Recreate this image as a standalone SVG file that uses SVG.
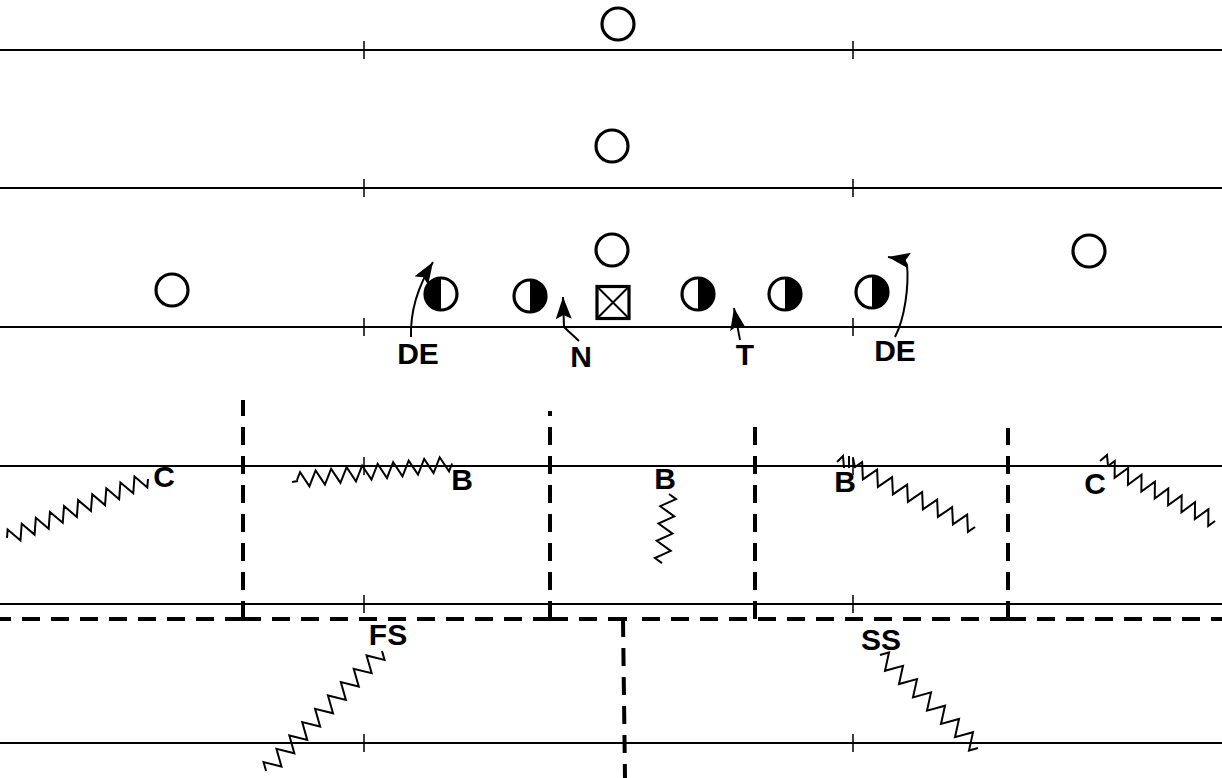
<svg xmlns="http://www.w3.org/2000/svg" xmlns:xlink="http://www.w3.org/1999/xlink" width="1222" height="778" viewBox="0 0 1222 778">
<style>
.ln{stroke:#000;stroke-width:2;fill:none}
.tk{stroke:#000;stroke-width:1.5;fill:none}
.ds{stroke:#000;stroke-width:4;stroke-dasharray:18 11;fill:none}
.zz{stroke:#000;stroke-width:2;fill:none;stroke-linejoin:miter}
.off{fill:#fff;stroke:#000;stroke-width:3.2}
.lbl{font-family:"Liberation Sans",Arial,sans-serif;font-weight:bold;font-size:30px;text-anchor:middle;fill:#000}
.arr{stroke:#000;stroke-width:2;fill:none;marker-end:url(#ah)}
</style>
<defs>
<marker id="ah" viewBox="0 0 22 16" refX="22" refY="8" markerWidth="22" markerHeight="16" markerUnits="userSpaceOnUse" orient="auto">
<path d="M22,8 L0,0 L4,8 L0,16 Z" fill="#000"/>
</marker>
<g id="dlL"><circle r="16" class="off"/><path d="M0,-16 A16,16 0 0 0 0,16 Z" fill="#000"/></g>
<g id="dlR"><circle r="16" class="off"/><path d="M0,-16 A16,16 0 0 1 0,16 Z" fill="#000"/></g>
</defs>
<rect width="1222" height="778" fill="#fff"/>
<g id="field">
<path class="ln" d="M0,50H1222M0,188H1222M0,327H1222M0,466H1222M0,604H1222M0,743H1222"/>
<path class="tk" d="M364,41V59M853,41V59M364,179V197M853,179V197M364,318V336M853,318V336M364,457V475M853,457V475M364,595V613M853,595V613M364,734V752M853,734V752"/>
</g>
<g id="zones">
<path class="ds" d="M243,619V400M550,619V411M755,619V420M1008,619V428"/>
<path class="ds" d="M243,619H0M243,619H550M550,619H610M1008,619H636M1008,619H1222"/>
<path class="ds" d="M609,619H638"/>
<path class="ds" d="M623,619L625,778"/>
</g>
<g id="offense">
<g id="o1"><circle cx="618" cy="24" r="16" class="off"/></g>
<g id="o2"><circle cx="612" cy="146" r="16" class="off"/></g>
<g id="o3"><circle cx="612" cy="250" r="16" class="off"/></g>
<g id="o4"><circle cx="172" cy="290" r="16" class="off"/></g>
<g id="o5"><circle cx="1089" cy="251" r="16" class="off"/></g>
<g id="center"><rect x="597" y="286.5" width="32" height="32" class="off"/><path d="M597,286.5L629,318.5M629,286.5L597,318.5" stroke="#000" stroke-width="2"/></g>
</g>
<g id="dline">
<g id="de-left" transform="translate(441,294)"><use xlink:href="#dlL"/></g>
<g id="nose" transform="translate(530,296)"><use xlink:href="#dlR"/></g>
<g id="tackle" transform="translate(698,294)"><use xlink:href="#dlR"/></g>
<g id="dl4" transform="translate(785,294)"><use xlink:href="#dlR"/></g>
<g id="de-right" transform="translate(872,292)"><use xlink:href="#dlR"/></g>
</g>
<g id="connectors">
<path class="arr" d="M411,337 C410,305 423,278 433,262"/>
<path class="arr" d="M579,341 L564,327 L563,297"/>
<path class="arr" d="M740,340 L734,308"/>
<path class="arr" d="M895,337 C905,318 909,285 907,265 Q906,260 888,257"/>
<path class="zz" transform="translate(7,538) rotate(-22.7)" d="M0,0l3.82,-7.5 7.64,15 7.64,-15 7.64,15 7.64,-15 7.64,15 7.64,-15 7.64,15 7.64,-15 7.64,15 7.64,-15 7.64,15 7.64,-15 7.64,15 7.64,-15 7.64,15 7.64,-15 7.64,15 7.64,-15 7.64,15 3.82,-7.5"/>
<path class="zz" d="M292,482 L298,481"/>
<path class="zz" transform="translate(297,480) rotate(-6.07)" d="M0,0l3.9,-7.5 7.8,15 7.8,-15 7.8,15 7.8,-15 7.8,15 7.8,-15 7.8,15 7.8,-15 7.8,15 7.8,-15 7.8,15 7.8,-15 7.8,15 7.8,-15 7.8,15 7.8,-15 7.8,15 7.8,-15 7.8,15 3.9,-7.5"/>
<path class="zz" transform="translate(669,494) rotate(95.8)" d="M0,0l4.34,-7.5 8.68,15 8.68,-15 8.68,15 8.68,-15 8.68,15 8.68,-15 8.68,15 4.34,-7.5"/>
<path class="zz" d="M837,462 L843,456 L844,468 M849,456 L849,468 M853,458 L855,468"/>
<path class="zz" transform="translate(855,467) rotate(26.57)" d="M0,0l4.19,-7.5 8.39,15 8.39,-15 8.39,15 8.39,-15 8.39,15 8.39,-15 8.39,15 8.39,-15 8.39,15 8.39,-15 8.39,15 8.39,-15 8.39,15 8.39,-15 8.39,15 4.19,-7.5"/>
<path class="zz" d="M1100,461 L1107,455 L1108,466"/>
<path class="zz" transform="translate(1108,466) rotate(27.2)" d="M0,0l3.76,-7.5 7.52,15 7.52,-15 7.52,15 7.52,-15 7.52,15 7.52,-15 7.52,15 7.52,-15 7.52,15 7.52,-15 7.52,15 7.52,-15 7.52,15 7.52,-15 7.52,15 3.76,-7.5"/>
<path class="zz" transform="translate(382,651) rotate(134)" d="M0,0l4.64,-8 9.27,16 9.27,-16 9.27,16 9.27,-16 9.27,16 9.27,-16 9.27,16 9.27,-16 9.27,16 9.27,-16 9.27,16 9.27,-16 9.27,16 9.27,-16 9.27,16 9.27,-16 9.27,16 4.64,-8"/>
<path class="zz" transform="translate(880,655) rotate(43.5)" d="M0,0l4.83,-8 9.65,16 9.65,-16 9.65,16 9.65,-16 9.65,16 9.65,-16 9.65,16 9.65,-16 9.65,16 9.65,-16 9.65,16 9.65,-16 9.65,16 4.83,-8"/>
</g>
<g id="labels">
<text class="lbl" x="418" y="364">DE</text>
<text class="lbl" x="581" y="367">N</text>
<text class="lbl" x="745" y="365">T</text>
<text class="lbl" x="895" y="361">DE</text>
<text class="lbl" x="164" y="487">C</text>
<text class="lbl" x="462" y="490">B</text>
<text class="lbl" x="665" y="489">B</text>
<text class="lbl" x="845" y="492">B</text>
<text class="lbl" x="1095" y="494">C</text>
<text class="lbl" x="388" y="645">FS</text>
<text class="lbl" x="881" y="650">SS</text>
</g>
</svg>
